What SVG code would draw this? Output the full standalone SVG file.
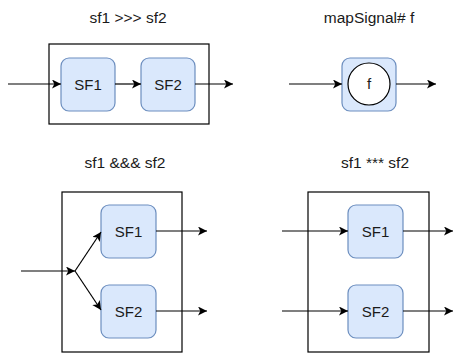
<svg xmlns="http://www.w3.org/2000/svg" width="453" height="354" viewBox="0 0 453 354">
<style>
.frame{fill:none;stroke:#000;stroke-width:1.2}
.sf{fill:#dae8fc;stroke:#6c8ebf;stroke-width:1.2}
.lbl{font-family:"Liberation Sans",Arial,sans-serif;font-size:15px;fill:#1a1a1a;text-anchor:middle}
.title{font-family:"Liberation Sans",Arial,sans-serif;font-size:15.5px;fill:#1a1a1a;text-anchor:middle}
.edge{fill:none;stroke:#000;stroke-width:1.2;marker-end:url(#arr)}
</style>
<defs>
<marker id="arr" markerUnits="userSpaceOnUse" markerWidth="10" markerHeight="10" refX="9" refY="4.5" orient="auto">
<path d="M0,0 L9,4.5 L0,9 L2.3,4.5 Z" fill="#000"/>
</marker>
</defs>
<g id="titles">
<text class="title" x="128" y="23">sf1 &gt;&gt;&gt; sf2</text>
<text class="title" x="369" y="23">mapSignal# f</text>
<text class="title" x="125" y="168">sf1 &amp;&amp;&amp; sf2</text>
<text class="title" x="375" y="168">sf1 *** sf2</text>
</g>
<g id="compose">
<rect class="frame" x="49" y="44" width="160" height="80"/>
<g id="c-sf1"><rect class="sf" x="61" y="58" width="54" height="53" rx="8"/><text class="lbl" x="88" y="90">SF1</text></g>
<g id="c-sf2"><rect class="sf" x="141" y="58" width="54" height="53" rx="8"/><text class="lbl" x="168" y="90">SF2</text></g>
</g>
<g id="map">
<rect class="sf" x="342" y="58" width="54" height="53" rx="8"/>
<circle cx="369" cy="84" r="21" fill="#fff" stroke="#000" stroke-width="1.2"/>
<text class="lbl" x="369" y="89">f</text>
</g>
<g id="fanout">
<rect class="frame" x="62" y="192" width="120" height="160"/>
<g id="f-sf1"><rect class="sf" x="101" y="205" width="55" height="53" rx="8"/><text class="lbl" x="128.5" y="237">SF1</text></g>
<g id="f-sf2"><rect class="sf" x="101" y="285" width="55" height="53" rx="8"/><text class="lbl" x="128.5" y="317">SF2</text></g>
</g>
<g id="split">
<rect class="frame" x="308" y="192" width="121" height="160"/>
<g id="s-sf1"><rect class="sf" x="348" y="205" width="55" height="53" rx="8"/><text class="lbl" x="375.5" y="237">SF1</text></g>
<g id="s-sf2"><rect class="sf" x="348" y="285" width="55" height="53" rx="8"/><text class="lbl" x="375.5" y="317">SF2</text></g>
</g>
<g id="connectors">
<line class="edge" x1="8" y1="84" x2="61" y2="84"/>
<line class="edge" x1="115" y1="84" x2="141" y2="84"/>
<line class="edge" x1="195" y1="84" x2="233" y2="84"/>
<line class="edge" x1="289" y1="84" x2="342" y2="84"/>
<line class="edge" x1="396" y1="84" x2="436" y2="84"/>
<line class="edge" x1="21" y1="271" x2="75" y2="271"/>
<line class="edge" x1="75" y1="271" x2="101" y2="232"/>
<line class="edge" x1="75" y1="271" x2="101" y2="310"/>
<line class="edge" x1="156" y1="231" x2="207" y2="231"/>
<line class="edge" x1="156" y1="311" x2="207" y2="311"/>
<line class="edge" x1="282" y1="231" x2="348" y2="231"/>
<line class="edge" x1="282" y1="311" x2="348" y2="311"/>
<line class="edge" x1="403" y1="231" x2="453" y2="231"/>
<line class="edge" x1="403" y1="311" x2="453" y2="311"/>
</g>
</svg>
